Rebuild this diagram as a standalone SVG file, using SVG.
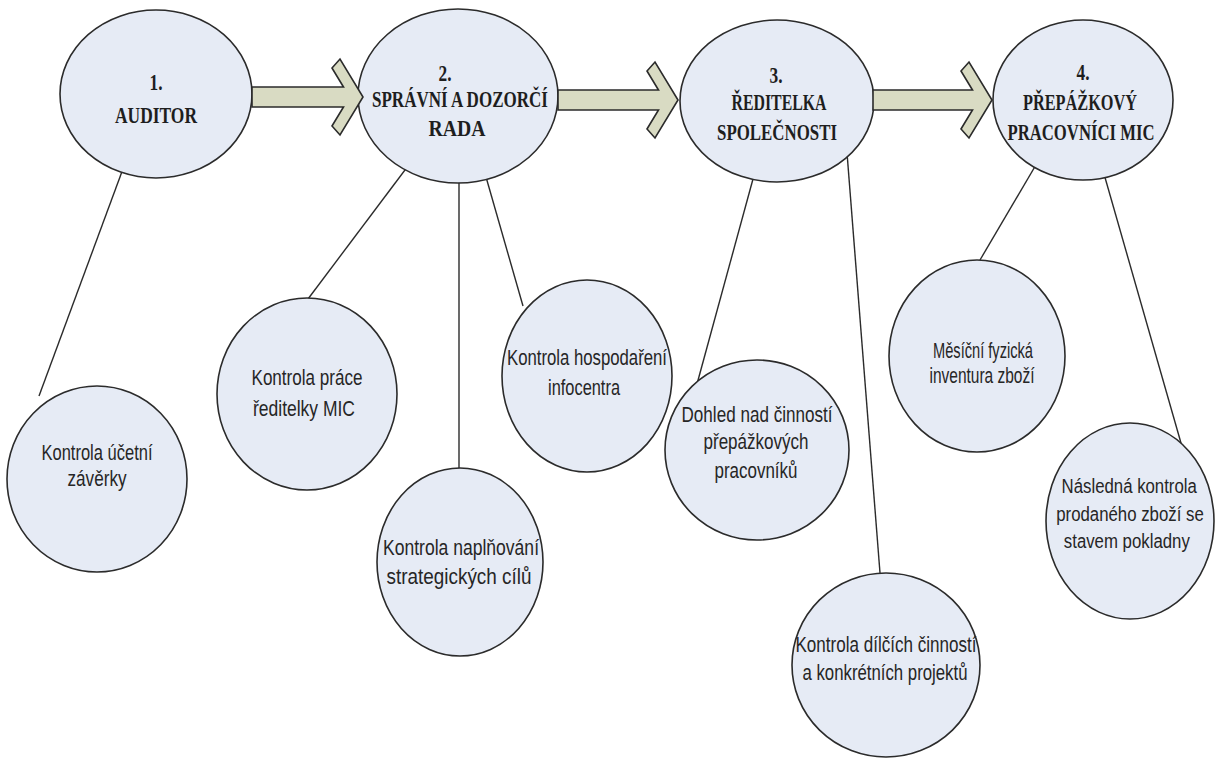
<svg xmlns="http://www.w3.org/2000/svg" width="1215" height="758" viewBox="0 0 1215 758">
  <style>
    .node { fill: #e6ebf5; stroke: #2b2b2b; stroke-width: 1.6; }
    .link { stroke: #2b2b2b; stroke-width: 1.4; fill: none; }
    .flow { fill: #d9dbc3; stroke: #2b2b2b; stroke-width: 1.6; stroke-linejoin: miter; }
    .head { font-family: "Liberation Serif", "Times New Roman", serif; font-weight: bold; font-size: 23px; fill: #1e1e1e; text-anchor: middle; }
    .task { font-family: "Liberation Sans", Arial, sans-serif; font-size: 22px; fill: #262626; text-anchor: middle; }
  </style>
  <rect width="1215" height="758" fill="#ffffff"/>

  <!-- connectors from the four levels to their control tasks -->
  <g id="connectors">
    <line class="link" x1="127" y1="158" x2="39" y2="396"/>
    <line class="link" x1="414" y1="158" x2="308" y2="299"/>
    <line class="link" x1="459" y1="170" x2="459" y2="469"/>
    <line class="link" x1="484" y1="170" x2="523" y2="306"/>
    <line class="link" x1="756" y1="168" x2="697" y2="384"/>
    <line class="link" x1="846" y1="140" x2="880" y2="573"/>
    <line class="link" x1="1040" y1="158" x2="980" y2="260"/>
    <line class="link" x1="1100" y1="160" x2="1183" y2="450"/>
  </g>

  <!-- top level: four bodies in sequence -->
  <g id="n1">
    <ellipse class="node" cx="156" cy="94" rx="96" ry="84"/>
    <text class="head" x="156" y="90" textLength="13" lengthAdjust="spacingAndGlyphs">1.</text>
    <text class="head" x="156" y="123" textLength="82" lengthAdjust="spacingAndGlyphs">AUDITOR</text>
  </g>
  <g id="n2">
    <ellipse class="node" cx="458" cy="96" rx="100" ry="87"/>
    <text class="head" x="445" y="81" textLength="13" lengthAdjust="spacingAndGlyphs">2.</text>
    <text class="head" x="460" y="107" textLength="176" lengthAdjust="spacingAndGlyphs">SPRÁVNÍ A DOZORČÍ</text>
    <text class="head" x="457" y="136" textLength="57" lengthAdjust="spacingAndGlyphs">RADA</text>
  </g>
  <g id="n3">
    <ellipse class="node" cx="777" cy="101" rx="97" ry="81"/>
    <text class="head" x="776" y="83" textLength="13" lengthAdjust="spacingAndGlyphs">3.</text>
    <text class="head" x="779" y="110" textLength="95" lengthAdjust="spacingAndGlyphs">ŘEDITELKA</text>
    <text class="head" x="777" y="140" textLength="120" lengthAdjust="spacingAndGlyphs">SPOLEČNOSTI</text>
  </g>
  <g id="n4">
    <ellipse class="node" cx="1083" cy="100" rx="90" ry="80"/>
    <text class="head" x="1083" y="80" textLength="13" lengthAdjust="spacingAndGlyphs">4.</text>
    <text class="head" x="1080" y="110" textLength="114" lengthAdjust="spacingAndGlyphs">PŘEPÁŽKOVÝ</text>
    <text class="head" x="1081" y="140" textLength="147" lengthAdjust="spacingAndGlyphs">PRACOVNÍCI MIC</text>
  </g>

  <!-- block arrows between the levels -->
  <g id="flow-arrows">
    <polygon class="flow" points="252,87 343.5,87 332,68 340,59 363,97 340,135 332,126 343.5,107 252,107"/>
    <polygon class="flow" points="558,90 658.5,90 647,71 655,62 678,100 655,138 647,129 658.5,110 558,110"/>
    <polygon class="flow" points="873,90 972.5,90 961,71 969,62 992,100 969,138 961,129 972.5,110 873,110"/>
  </g>

  <!-- control tasks -->
  <g id="t1">
    <ellipse class="node" cx="97" cy="479" rx="90" ry="93"/>
    <text class="task" x="97" y="460" textLength="111" lengthAdjust="spacingAndGlyphs">Kontrola účetní</text>
    <text class="task" x="97" y="486" textLength="59" lengthAdjust="spacingAndGlyphs">závěrky</text>
  </g>
  <g id="t2">
    <ellipse class="node" cx="307" cy="394" rx="90" ry="96"/>
    <text class="task" x="307" y="385" textLength="111" lengthAdjust="spacingAndGlyphs">Kontrola práce</text>
    <text class="task" x="304" y="416" textLength="102" lengthAdjust="spacingAndGlyphs">ředitelky MIC</text>
  </g>
  <g id="t3">
    <ellipse class="node" cx="460" cy="562" rx="83" ry="94"/>
    <text class="task" x="461" y="555" textLength="156" lengthAdjust="spacingAndGlyphs">Kontrola naplňování</text>
    <text class="task" x="459" y="584" textLength="145" lengthAdjust="spacingAndGlyphs">strategických cílů</text>
  </g>
  <g id="t4">
    <ellipse class="node" cx="587" cy="376" rx="85" ry="96"/>
    <text class="task" x="587" y="365" textLength="160" lengthAdjust="spacingAndGlyphs">Kontrola hospodaření</text>
    <text class="task" x="584" y="395" textLength="72" lengthAdjust="spacingAndGlyphs">infocentra</text>
  </g>
  <g id="t5">
    <ellipse class="node" cx="757" cy="450" rx="92" ry="90"/>
    <text class="task" x="757" y="422" textLength="151" lengthAdjust="spacingAndGlyphs">Dohled nad činností</text>
    <text class="task" x="756" y="449" textLength="105" lengthAdjust="spacingAndGlyphs">přepážkových</text>
    <text class="task" x="756" y="478" textLength="83" lengthAdjust="spacingAndGlyphs">pracovníků</text>
  </g>
  <g id="t6">
    <ellipse class="node" cx="886" cy="665" rx="94" ry="92"/>
    <text class="task" x="886" y="652" textLength="181" lengthAdjust="spacingAndGlyphs">Kontrola dílčích činností</text>
    <text class="task" x="885" y="680" textLength="165" lengthAdjust="spacingAndGlyphs">a konkrétních projektů</text>
  </g>
  <g id="t7">
    <ellipse class="node" cx="977" cy="356" rx="88" ry="96"/>
    <text class="task" x="983" y="358" textLength="100" lengthAdjust="spacingAndGlyphs">Měsíční fyzická</text>
    <text class="task" x="982" y="383" textLength="105" lengthAdjust="spacingAndGlyphs">inventura zboží</text>
  </g>
  <g id="t8">
    <ellipse class="node" cx="1130" cy="521" rx="84" ry="98"/>
    <!-- narrow lettering: horizontal squeeze around the node centre -->
    <g transform="translate(1130 0) scale(0.8 1)">
      <text class="task" x="-1" y="493" style="font-size:21px">Následná kontrola</text>
      <text class="task" x="0" y="521" style="font-size:21px">prodaného zboží se</text>
      <text class="task" x="-4" y="548" style="font-size:21px">stavem pokladny</text>
    </g>
  </g>
</svg>
